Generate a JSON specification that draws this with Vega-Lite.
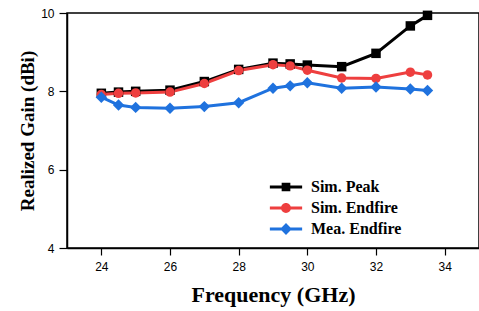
{
  "$schema": "https://vega.github.io/schema/vega-lite/v6.json",
  "width": 412,
  "height": 235,
  "autosize": {"type": "none"},
  "padding": {"left": 67, "top": 13, "right": 0, "bottom": 63},
  "config": {
    "view": {"stroke": "black", "strokeWidth": 1.5},
    "axis": {"grid": false, "domainColor": "black", "domainWidth": 1.5, "tickColor": "black", "tickWidth": 1.2,
      "labelFont": "Liberation Sans", "labelFontSize": 12, "labelColor": "black",
      "titleFont": "Liberation Serif", "titleFontWeight": "bold", "titleColor": "black"}
  },
  "data": {"values": [
    {"f": 24, "g": 7.95, "s": "Sim. Peak"},
    {"f": 24.5, "g": 7.98, "s": "Sim. Peak"},
    {"f": 25, "g": 8.0, "s": "Sim. Peak"},
    {"f": 26, "g": 8.03, "s": "Sim. Peak"},
    {"f": 27, "g": 8.25, "s": "Sim. Peak"},
    {"f": 28, "g": 8.56, "s": "Sim. Peak"},
    {"f": 29, "g": 8.72, "s": "Sim. Peak"},
    {"f": 29.5, "g": 8.7, "s": "Sim. Peak"},
    {"f": 30, "g": 8.67, "s": "Sim. Peak"},
    {"f": 31, "g": 8.63, "s": "Sim. Peak"},
    {"f": 32, "g": 8.97, "s": "Sim. Peak"},
    {"f": 33, "g": 9.67, "s": "Sim. Peak"},
    {"f": 33.5, "g": 9.94, "s": "Sim. Peak"},
    {"f": 24, "g": 7.92, "s": "Sim. Endfire"},
    {"f": 24.5, "g": 7.95, "s": "Sim. Endfire"},
    {"f": 25, "g": 7.96, "s": "Sim. Endfire"},
    {"f": 26, "g": 7.98, "s": "Sim. Endfire"},
    {"f": 27, "g": 8.2, "s": "Sim. Endfire"},
    {"f": 28, "g": 8.53, "s": "Sim. Endfire"},
    {"f": 29, "g": 8.68, "s": "Sim. Endfire"},
    {"f": 29.5, "g": 8.65, "s": "Sim. Endfire"},
    {"f": 30, "g": 8.54, "s": "Sim. Endfire"},
    {"f": 31, "g": 8.34, "s": "Sim. Endfire"},
    {"f": 32, "g": 8.33, "s": "Sim. Endfire"},
    {"f": 33, "g": 8.49, "s": "Sim. Endfire"},
    {"f": 33.5, "g": 8.42, "s": "Sim. Endfire"},
    {"f": 24, "g": 7.85, "s": "Mea. Endfire"},
    {"f": 24.5, "g": 7.65, "s": "Mea. Endfire"},
    {"f": 25, "g": 7.59, "s": "Mea. Endfire"},
    {"f": 26, "g": 7.57, "s": "Mea. Endfire"},
    {"f": 27, "g": 7.61, "s": "Mea. Endfire"},
    {"f": 28, "g": 7.71, "s": "Mea. Endfire"},
    {"f": 29, "g": 8.08, "s": "Mea. Endfire"},
    {"f": 29.5, "g": 8.14, "s": "Mea. Endfire"},
    {"f": 30, "g": 8.22, "s": "Mea. Endfire"},
    {"f": 31, "g": 8.08, "s": "Mea. Endfire"},
    {"f": 32, "g": 8.11, "s": "Mea. Endfire"},
    {"f": 33, "g": 8.06, "s": "Mea. Endfire"},
    {"f": 33.5, "g": 8.02, "s": "Mea. Endfire"}
  ]},
  "encoding": {
    "x": {"field": "f", "type": "quantitative", "scale": {"domain": [23, 35], "nice": false},
      "axis": {"values": [24, 26, 28, 30, 32, 34], "title": "Frequency (GHz)", "titleFontSize": 22, "tickSize": 7, "labelPadding": 6, "titlePadding": 12}},
    "y": {"field": "g", "type": "quantitative", "scale": {"domain": [4, 10], "nice": false},
      "axis": {"values": [4, 6, 8, 10], "title": "Realized Gain (dBi)", "titleFontSize": 19, "tickSize": 8, "labelPadding": 5, "titlePadding": 3}}
  },
  "layer": [
    {"mark": {"type": "line", "strokeWidth": 3},
      "encoding": {"color": {"field": "s", "type": "nominal", "legend": null,
        "scale": {"domain": ["Sim. Peak", "Sim. Endfire", "Mea. Endfire"], "range": ["#000000", "#ee3f3f", "#1f72de"]}}}},
    {"mark": {"type": "point", "filled": true, "opacity": 1},
      "encoding": {
        "color": {"field": "s", "type": "nominal", "legend": null},
        "shape": {"field": "s", "type": "nominal", "legend": null,
          "scale": {"domain": ["Sim. Peak", "Sim. Endfire", "Mea. Endfire"], "range": ["square", "circle", "diamond"]}},
        "size": {"condition": {"test": "datum.s === 'Mea. Endfire'", "value": 130}, "value": 90}
      }},
    {"mark": {"type": "point", "filled": true, "opacity": 0},
      "encoding": {
        "fill": {"field": "s", "type": "nominal",
          "scale": {"domain": ["Sim. Peak", "Sim. Endfire", "Mea. Endfire"], "range": ["#000000", "#ee3f3f", "#1f72de"]},
          "legend": {"title": null, "orient": "none", "legendX": 211, "legendY": 166,
            "symbolSize": 154, "symbolOpacity": 1, "symbolStrokeWidth": 0,
            "labelFont": "Liberation Serif", "labelFontWeight": "bold", "labelFontSize": 16, "labelColor": "black",
            "rowPadding": 5, "labelOffset": 17}},
        "shape": {"field": "s", "type": "nominal",
          "scale": {"domain": ["Sim. Peak", "Sim. Endfire", "Mea. Endfire"],
            "range": [
              "M-2.6,-0.24H2.6V0.24H-2.6Z M-0.7,-0.7H0.7V0.7H-0.7Z",
              "M-2.6,-0.24H2.6V0.24H-2.6Z M-0.8,0A0.8,0.8 0 1,1 0.8,0A0.8,0.8 0 1,1 -0.8,0Z",
              "M-2.6,-0.24H2.6V0.24H-2.6Z M0,-0.95L0.95,0L0,0.95L-0.95,0Z"
            ]},
          "legend": {"title": null, "orient": "none", "legendX": 211, "legendY": 166,
            "symbolSize": 154, "symbolOpacity": 1, "symbolStrokeWidth": 0,
            "labelFont": "Liberation Serif", "labelFontWeight": "bold", "labelFontSize": 16, "labelColor": "black",
            "rowPadding": 5, "labelOffset": 17}
        }
      }}
  ],
  "resolve": {"scale": {"shape": "independent", "fill": "independent"}}
}
